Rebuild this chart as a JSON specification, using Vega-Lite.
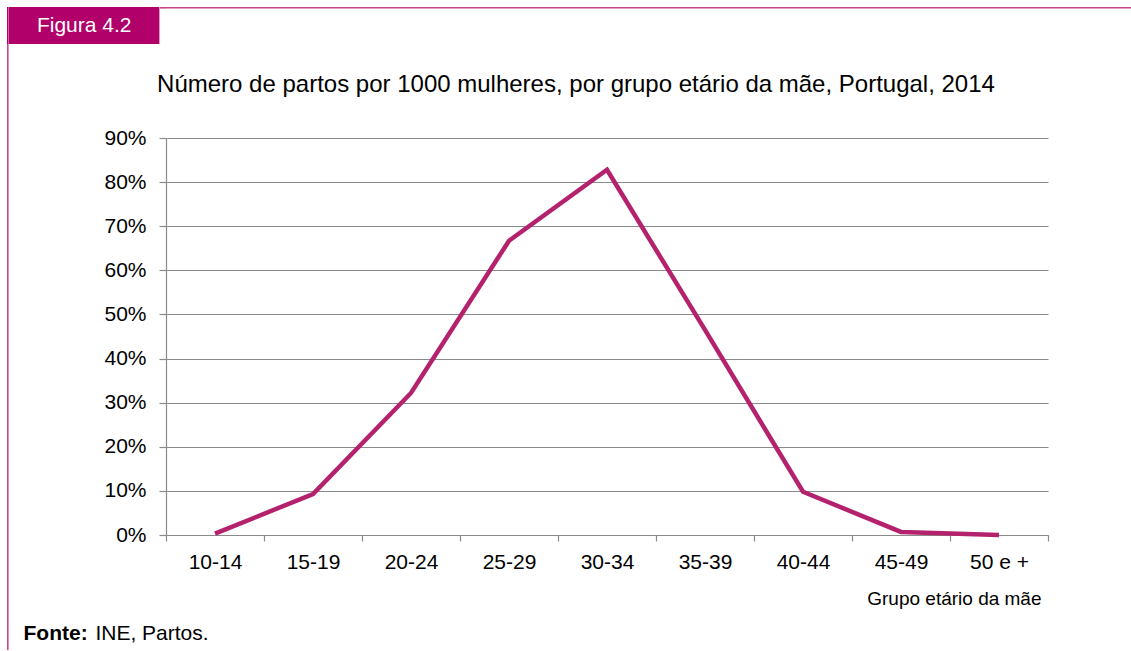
{
  "$schema": "https://vega.github.io/schema/vega-lite/v6.json",
  "background": "white",
  "padding": {"left": 7, "top": 7, "right": 0, "bottom": 0},
  "autosize": {"type": "pad"},
  "config": {
    "font": "Liberation Sans",
    "view": {"stroke": null}
  },
  "columns": 4,
  "align": "each",
  "bounds": "flush",
  "spacing": 0,
  "concat": [
    {"width": 1.6, "height": 37, "view": {"fill": "#b1006a", "stroke": null}, "data": {"values": []}, "mark": "text", "encoding": {}},
    {
      "width": 150.4,
      "height": 37,
      "view": {"fill": "#b1006a", "stroke": null},
      "data": {"values": [{"label": "Figura 4.2"}]},
      "mark": {"type": "text", "color": "white", "fontSize": 21, "align": "center", "baseline": "middle", "font": "Liberation Sans"},
      "encoding": {"text": {"field": "label"}}
    },
    {"width": 6, "height": 1.6, "view": {"fill": "#c9458f", "stroke": null}, "data": {"values": []}, "mark": "text", "encoding": {}},
    {"width": 965, "height": 1.6, "view": {"fill": "#c9458f", "stroke": null}, "data": {"values": []}, "mark": "text", "encoding": {}},

    {"width": 1.6, "height": 94, "view": {"fill": "#c9458f", "stroke": null}, "data": {"values": []}, "mark": "text", "encoding": {}},
    {"width": 0.001, "height": 0.001, "data": {"values": []}, "mark": "text", "encoding": {}},
    {"width": 0.001, "height": 0.001, "data": {"values": []}, "mark": "text", "encoding": {}},
    {"width": 0.001, "height": 0.001, "data": {"values": []}, "mark": "text", "encoding": {}},

    {"width": 1.6, "height": 397, "view": {"fill": "#c9458f", "stroke": null}, "data": {"values": []}, "mark": "text", "encoding": {}},
    {"width": 0.001, "height": 0.001, "data": {"values": []}, "mark": "text", "encoding": {}},
    {"width": 0.001, "height": 0.001, "data": {"values": []}, "mark": "text", "encoding": {}},
    {
      "width": 882,
      "height": 397,
      "data": {
        "values": [
          {"grupo": "10-14", "valor": 0.003},
          {"grupo": "15-19", "valor": 0.093},
          {"grupo": "20-24", "valor": 0.322},
          {"grupo": "25-29", "valor": 0.667},
          {"grupo": "30-34", "valor": 0.828},
          {"grupo": "35-39", "valor": 0.465},
          {"grupo": "40-44", "valor": 0.098},
          {"grupo": "45-49", "valor": 0.007},
          {"grupo": "50 e +", "valor": 0.0002}
        ]
      },
      "title": {
        "text": "Número de partos por 1000 mulheres, por grupo etário da mãe, Portugal, 2014",
        "frame": "group",
        "anchor": "middle",
        "dx": -31,
        "offset": 11,
        "baseline": "alphabetic",
        "fontSize": 24,
        "fontWeight": "normal",
        "font": "Liberation Sans",
        "color": "#000000"
      },
      "mark": {"type": "line", "color": "#b4226e", "strokeWidth": 4.5, "strokeJoin": "miter"},
      "encoding": {
        "x": {
          "field": "grupo",
          "type": "nominal",
          "sort": null,
          "scale": {"type": "band", "paddingInner": 0, "paddingOuter": 0},
          "axis": {
            "title": "Grupo etário da mãe",
            "titleX": 875,
            "titleY": 69,
            "titleAlign": "right",
            "titleBaseline": "alphabetic",
            "titleFontSize": 19,
            "titleFontWeight": "normal",
            "titleColor": "#000000",
            "titleFont": "Liberation Sans",
            "labelAngle": 0,
            "labelFontSize": 21,
            "labelColor": "#000000",
            "labelFont": "Liberation Sans",
            "labelPadding": 10,
            "tickBand": "extent",
            "tickSize": 6,
            "tickColor": "#8a8a8a",
            "tickWidth": 1.2,
            "domainColor": "#8a8a8a",
            "domainWidth": 1.2,
            "grid": false
          }
        },
        "y": {
          "field": "valor",
          "type": "quantitative",
          "scale": {"domain": [0, 0.9], "nice": false},
          "axis": {
            "title": null,
            "values": [0, 0.1, 0.2, 0.3, 0.4, 0.5, 0.6, 0.7, 0.8, 0.9],
            "format": ".0%",
            "labelFontSize": 21,
            "labelColor": "#000000",
            "labelFont": "Liberation Sans",
            "labelPadding": 13,
            "tickSize": 7,
            "tickColor": "#8a8a8a",
            "tickWidth": 1.2,
            "domainColor": "#8a8a8a",
            "domainWidth": 1.2,
            "grid": true,
            "gridColor": "#8a8a8a",
            "gridWidth": 1.2
          }
        }
      }
    },

    {"width": 1.6, "height": 94, "view": {"fill": "#c9458f", "stroke": null}, "data": {"values": []}, "mark": "text", "encoding": {}},
    {"width": 0.001, "height": 0.001, "data": {"values": []}, "mark": "text", "encoding": {}},
    {"width": 0.001, "height": 0.001, "data": {"values": []}, "mark": "text", "encoding": {}},
    {"width": 0.001, "height": 0.001, "data": {"values": []}, "mark": "text", "encoding": {}},

    {"width": 1.6, "height": 21, "view": {"fill": "#c9458f", "stroke": null}, "data": {"values": []}, "mark": "text", "encoding": {}},
    {
      "width": 150.4,
      "height": 21,
      "data": {"values": [{"a": "Fonte:", "b": "INE, Partos."}]},
      "layer": [
        {
          "mark": {"type": "text", "align": "right", "baseline": "alphabetic", "dx": 3.5, "fontSize": 21, "fontWeight": "bold", "color": "#000000", "font": "Liberation Sans"},
          "encoding": {"text": {"field": "a"}}
        },
        {
          "mark": {"type": "text", "align": "left", "baseline": "alphabetic", "dx": 11.2, "fontSize": 21, "fontWeight": "normal", "color": "#000000", "font": "Liberation Sans"},
          "encoding": {"text": {"field": "b"}}
        }
      ]
    },
    {"width": 0.001, "height": 0.001, "data": {"values": []}, "mark": "text", "encoding": {}},
    {"width": 0.001, "height": 0.001, "data": {"values": []}, "mark": "text", "encoding": {}}
  ]
}
